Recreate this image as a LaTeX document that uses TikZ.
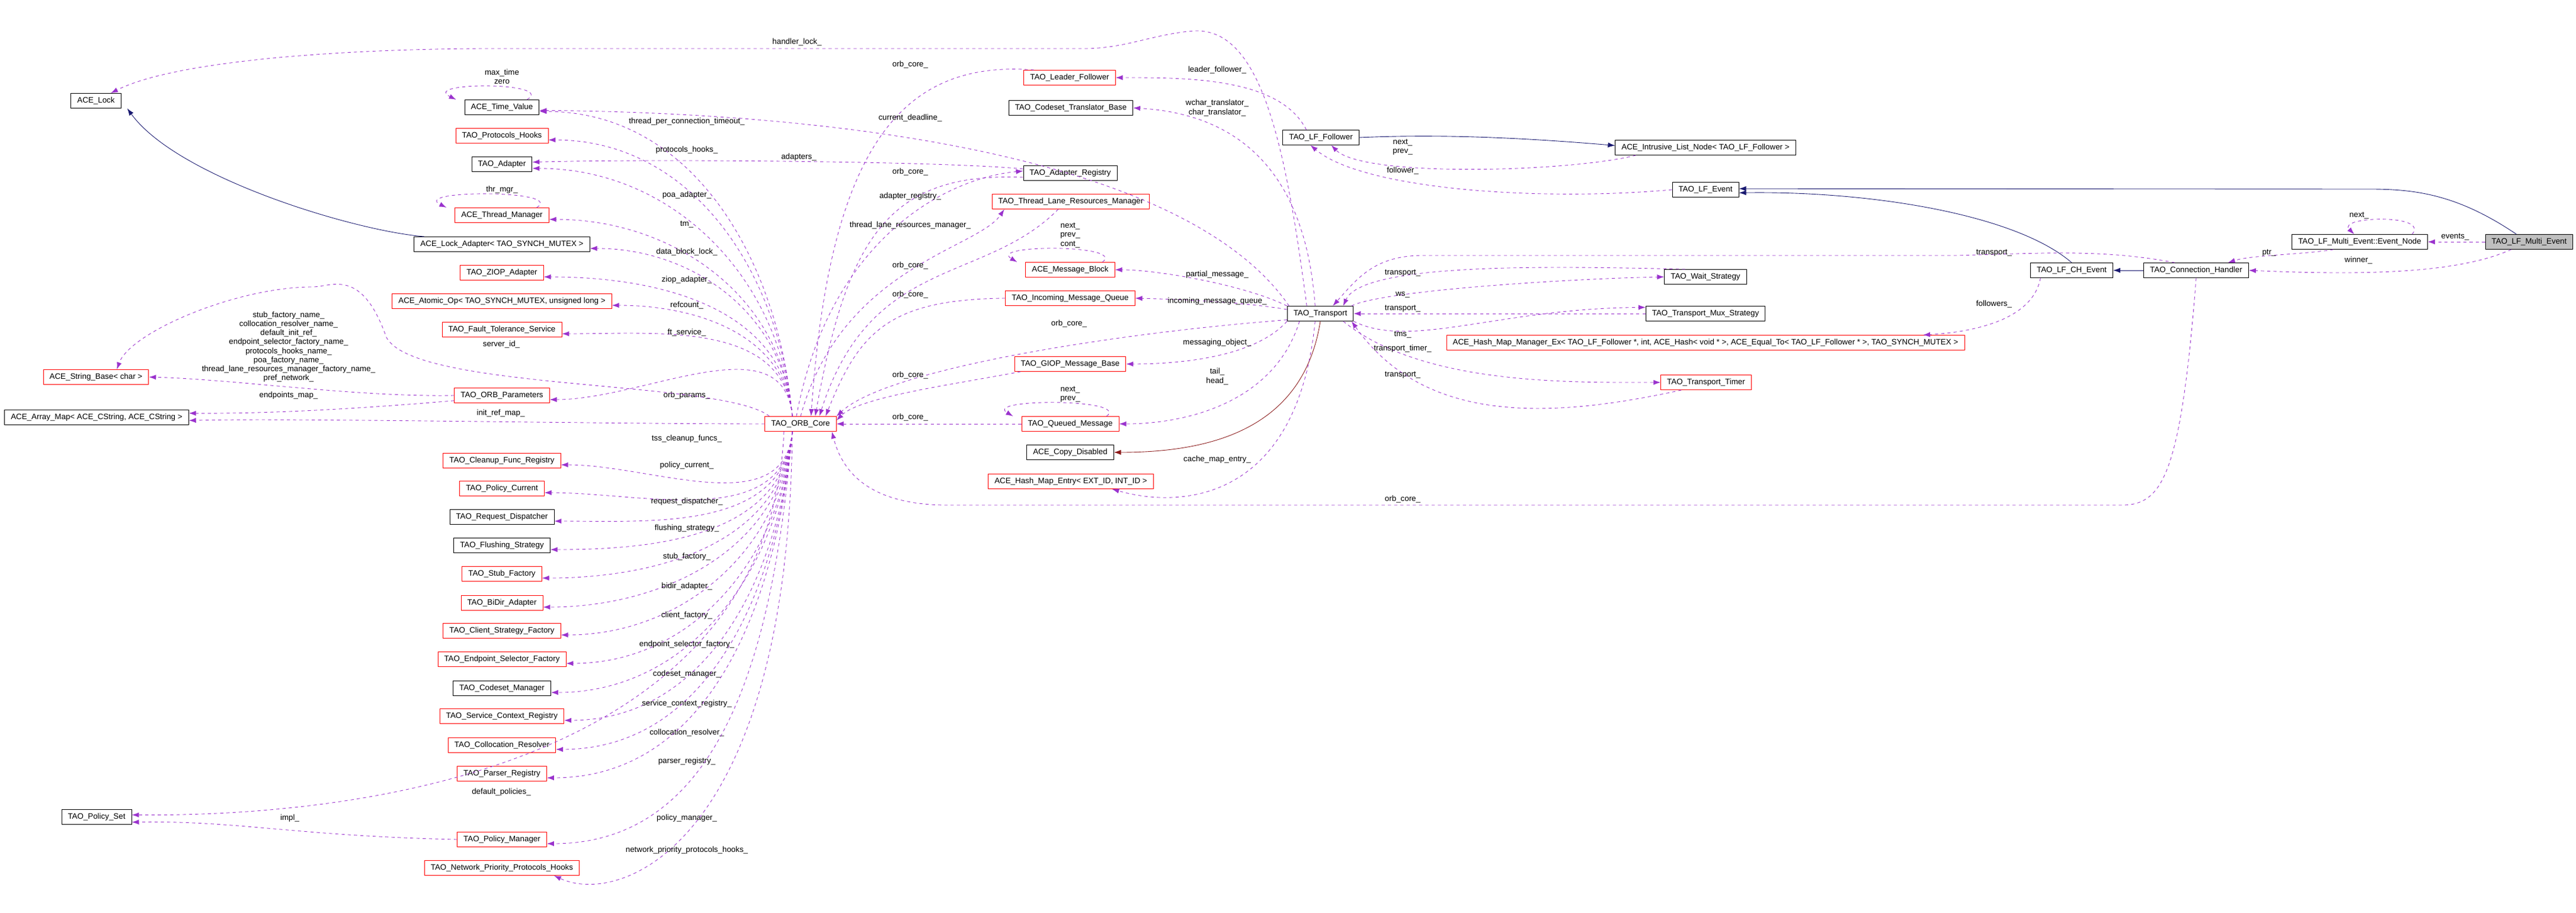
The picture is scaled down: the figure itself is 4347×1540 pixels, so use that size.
\documentclass[tikz,border=0pt]{standalone}
\usepackage{fontspec}
\setmainfont{Liberation Sans}
\usetikzlibrary{arrows.meta}
\definecolor{usecol}{HTML}{9A32CD}
\definecolor{inhcol}{HTML}{191970}
\definecolor{privcol}{HTML}{8B1A1A}
\tikzset{
  cls/.style={draw=black, fill=white, rectangle, minimum height=0.5cm, inner xsep=6pt, inner ysep=1pt, font=\fontsize{7.6}{9}\selectfont, line width=0.5pt},
  clsred/.style={cls, draw=red},
  clsfocus/.style={cls, fill=black!25},
  lbl/.style={font=\fontsize{7.6}{8.6}\selectfont, inner sep=1pt, align=center},
  uses/.style={draw=usecol, dashed, line width=0.5pt, -{Latex[length=2.4mm,width=1.7mm]}},
  inh/.style={draw=inhcol, line width=0.5pt, -{Latex[length=2.4mm,width=1.7mm]}},
  inhpriv/.style={inh, draw=privcol},
}
\begin{document}
\begin{tikzpicture}[x=0.02cm, y=0.02cm]
    \useasboundingbox (0,0) rectangle (4347,-1540);
    % left side
    \node [cls] (lock) at (162,-170) {ACE\_Lock};
    \node [clsred] (sb) at (162,-636) {ACE\_String\_Base< char >};
    \node [cls] (am) at (163,-704) {ACE\_Array\_Map< ACE\_CString, ACE\_CString >};
    \node [cls] (ps) at (163,-1378) {TAO\_Policy\_Set};
    \node [cls] (tv) at (847,-181) {ACE\_Time\_Value};
    \node [clsred] (ph) at (847,-229) {TAO\_Protocols\_Hooks};
    \node [cls] (ad) at (847,-277) {TAO\_Adapter};
    \node [clsred] (thm) at (847,-363) {ACE\_Thread\_Manager};
    \node [cls] (la) at (847,-412) {ACE\_Lock\_Adapter< TAO\_SYNCH\_MUTEX >};
    \node [clsred] (ziop) at (847,-460) {TAO\_ZIOP\_Adapter};
    \node [clsred] (atom) at (847,-508) {ACE\_Atomic\_Op< TAO\_SYNCH\_MUTEX, unsigned long >};
    \node [clsred] (ft) at (847,-556) {TAO\_Fault\_Tolerance\_Service};
    \node [clsred] (op) at (847,-667) {TAO\_ORB\_Parameters};
    \node [clsred] (cfr) at (847,-777) {TAO\_Cleanup\_Func\_Registry};
    \node [clsred] (pc) at (847,-824) {TAO\_Policy\_Current};
    \node [cls] (rd) at (847,-872) {TAO\_Request\_Dispatcher};
    \node [cls] (fs) at (847,-920) {TAO\_Flushing\_Strategy};
    \node [clsred] (sf) at (847,-968) {TAO\_Stub\_Factory};
    \node [clsred] (bd) at (847,-1017) {TAO\_BiDir\_Adapter};
    \node [clsred] (csf) at (847,-1064) {TAO\_Client\_Strategy\_Factory};
    \node [clsred] (esf) at (847,-1112) {TAO\_Endpoint\_Selector\_Factory};
    \node [cls] (cm) at (847,-1161) {TAO\_Codeset\_Manager};
    \node [clsred] (scr) at (847,-1208) {TAO\_Service\_Context\_Registry};
    \node [clsred] (cr) at (847,-1257) {TAO\_Collocation\_Resolver};
    \node [clsred] (pr) at (847,-1305) {TAO\_Parser\_Registry};
    \node [clsred] (pm) at (847,-1416) {TAO\_Policy\_Manager};
    \node [clsred] (npph) at (847,-1464) {TAO\_Network\_Priority\_Protocols\_Hooks};
    \node [clsred] (orb) at (1351,-715) {TAO\_ORB\_Core};
    % middle
    \node [clsred] (lf) at (1805,-131) {TAO\_Leader\_Follower};
    \node [cls] (ctb) at (1807,-182) {TAO\_Codeset\_Translator\_Base};
    \node [cls] (areg) at (1806,-292) {TAO\_Adapter\_Registry};
    \node [clsred] (tlrm) at (1807,-340) {TAO\_Thread\_Lane\_Resources\_Manager};
    \node [clsred] (mb) at (1806,-455) {ACE\_Message\_Block};
    \node [clsred] (imq) at (1806,-503) {TAO\_Incoming\_Message\_Queue};
    \node [clsred] (giop) at (1806,-614) {TAO\_GIOP\_Message\_Base};
    \node [clsred] (qm) at (1806,-715) {TAO\_Queued\_Message};
    \node [cls] (cd) at (1806,-763) {ACE\_Copy\_Disabled};
    \node [clsred] (hme) at (1807,-812) {ACE\_Hash\_Map\_Entry< EXT\_ID, INT\_ID >};
    \node [cls] (tr) at (2228,-529) {TAO\_Transport};
    \node [cls] (lff) at (2229,-232) {TAO\_LF\_Follower};
    % right side
    \node [cls] (iln) at (2878,-249) {ACE\_Intrusive\_List\_Node< TAO\_LF\_Follower >};
    \node [cls] (lfe) at (2878,-320) {TAO\_LF\_Event};
    \node [cls] (ws) at (2878,-467) {TAO\_Wait\_Strategy};
    \node [cls] (tms) at (2878,-529) {TAO\_Transport\_Mux\_Strategy};
    \node [clsred] (hmm) at (2878,-578) {ACE\_Hash\_Map\_Manager\_Ex< TAO\_LF\_Follower *, int, ACE\_Hash< void * >, ACE\_Equal\_To< TAO\_LF\_Follower * >, TAO\_SYNCH\_MUTEX >};
    \node [clsred] (tt) at (2879,-645) {TAO\_Transport\_Timer};
    \node [cls] (chev) at (3496,-456) {TAO\_LF\_CH\_Event};
    \node [cls] (ch) at (3706,-456) {TAO\_Connection\_Handler};
    \node [cls] (en) at (3982,-408) {TAO\_LF\_Multi\_Event::Event\_Node};
    \node [clsfocus] (me) at (4268,-408) {TAO\_LF\_Multi\_Event};

    % ORB core members, upper fan
    \foreach \b/\l/\ly in {tv/thread\_per\_connection\_timeout\_/205, ph/protocols\_hooks\_/253,
        ad/poa\_adapter\_/329, thm/tm\_/379, la/data\_block\_lock\_/425, ziop/ziop\_adapter\_/472,
        atom/refcount\_/515, ft/ft\_service\_/561, op/orb\_params\_/667} {
      \draw [uses] ([xshift=-8]orb.north) to[out=95,in=0] ([yshift=-4]\b.east);
      \node [lbl] (l\b) at (1159,-\ly) {\l};
    }
    % lower fan
    \foreach \b/\l/\ly in {cfr/tss\_cleanup\_funcs\_/740, pc/policy\_current\_/785, rd/request\_dispatcher\_/846,
        fs/flushing\_strategy\_/891, sf/stub\_factory\_/939, bd/bidir\_adapter\_/989, csf/client\_factory\_/1038,
        esf/endpoint\_selector\_factory\_/1087, cm/codeset\_manager\_/1137, scr/service\_context\_registry\_/1187,
        cr/collocation\_resolver\_/1236, pr/parser\_registry\_/1284, pm/policy\_manager\_/1380} {
      \draw [uses] ([xshift=-8]orb.south) to[out=-95,in=0] ([yshift=-4]\b.east);
      \node [lbl] (l\b) at (1159,-\ly) {\l};
    }
    \draw [uses] ([xshift=-8]orb.south) .. controls (1330,-1420) and (1050,-1530) .. ([xshift=50]npph.south);
    \node [lbl] (lnpph) at (1159,-1434) {network\_priority\_protocols\_hooks\_};
    \draw [uses] ([xshift=-16]orb.south) .. controls (1300,-1250) and (700,-1378) .. ([yshift=2]ps.east);
    \node [lbl] (ldp) at (846,-1336) {default\_policies\_};
    \draw [uses] (pm.west) .. controls (500,-1410) and (400,-1384) .. ([yshift=-5]ps.east);
    \node [lbl] (limpl) at (489,-1380) {impl\_};

    % parameters and maps
    \draw [uses] (op.west) .. controls (600,-670) and (400,-640) .. (sb.east);
    \node [lbl] (lsb) at (487,-585) {stub\_factory\_name\_\\collocation\_resolver\_name\_\\default\_init\_ref\_\\endpoint\_selector\_factory\_name\_\\protocols\_hooks\_name\_\\poa\_factory\_name\_\\thread\_lane\_resources\_manager\_factory\_name\_\\pref\_network\_};
    \draw [uses] ([yshift=-5]op.west) .. controls (600,-690) and (450,-698) .. ([yshift=4]am.east);
    \node [lbl] (lem) at (487,-667) {endpoints\_map\_};
    \draw [uses] (orb.west) .. controls (1000,-715) and (500,-705) .. ([yshift=-3]am.east);
    \node [lbl] (lirm) at (845,-697) {init\_ref\_map\_};
    \draw [uses] ([xshift=-30]orb.north) .. controls (1220,-640) and (700,-660) .. (652,-569)
        .. controls (610,-450) and (560,-484) .. (527,-484) .. controls (400,-484) and (220,-560) .. ([xshift=20]sb.north);
    \node [lbl] (lsid) at (846,-581) {server\_id\_};
    \draw [inh] ([xshift=10]la.north west) .. controls (600,-390) and (300,-300) .. ([xshift=30]lock.south);

    % self loops
    \draw [uses] ([xshift=-12]tv.north east) .. controls +(50,30) and +(-60,30) .. ([xshift=-8]tv.north west);
    \node [lbl] (ltv) at (847,-129) {max\_time\\zero};
    \draw [uses] ([xshift=-12]thm.north east) .. controls +(50,30) and +(-60,30) .. ([xshift=-8]thm.north west);
    \node [lbl] (lthm) at (847,-320) {thr\_mgr\_};
    \draw [uses] ([xshift=-12]mb.north east) .. controls +(40,30) and +(-50,30) .. ([xshift=-8]mb.north west);
    \node [lbl] (lmb) at (1806,-397) {next\_\\prev\_\\cont\_};
    \draw [uses] ([xshift=-12]qm.north east) .. controls +(40,30) and +(-50,30) .. ([xshift=-8]qm.north west);
    \node [lbl] (lqm) at (1806,-665) {next\_\\prev\_};
    \draw [uses] ([xshift=-15]en.north east) .. controls +(30,35) and +(-30,30) .. ([xshift=60]en.north west);
    \node [lbl] (len) at (3981,-364) {next\_};

    % orb_core_ back references
    \draw [uses] ([xshift=10]lf.north west) .. controls (1520,-100) and (1400,-250) .. ([xshift=10]orb.north);
    \node [lbl] (llf) at (1536,-109) {orb\_core\_};
    \draw [uses] ([yshift=-4]areg.west) .. controls (1500,-290) and (1430,-400) .. ([xshift=14]orb.north);
    \node [lbl] (lareg) at (1536,-290) {orb\_core\_};
    \draw [uses] ([xshift=-4]orb.north) .. controls (1400,-400) and (1600,-300) .. ([yshift=2]areg.west);
    \node [lbl] (laregr) at (1536,-331) {adapter\_registry\_};
    \draw [uses] (orb.north) .. controls (1420,-450) and (1650,-420) .. ([xshift=12]tlrm.south west);
    \node [lbl] (ltlrm) at (1536,-380) {thread\_lane\_resources\_manager\_};
    \draw [uses] ([xshift=-12]tlrm.south) .. controls (1660,-480) and (1470,-430) .. ([xshift=18]orb.north);
    \node [lbl] (ltlrmo) at (1536,-448) {orb\_core\_};
    \draw [uses] (imq.west) .. controls (1500,-505) and (1450,-560) .. ([xshift=24]orb.north);
    \node [lbl] (limq) at (1536,-497) {orb\_core\_};
    \draw [uses] ([yshift=-6]tr.west) .. controls (1900,-560) and (1500,-620) .. (orb.north east);
    \node [lbl] (ltro) at (1804,-546) {orb\_core\_};
    \draw [uses] ([xshift=6]giop.south west) .. controls (1600,-650) and (1450,-670) .. ([yshift=-4]orb.north east);
    \node [lbl] (lgiop) at (1536,-633) {orb\_core\_};
    \draw [uses] (qm.west) -- (orb.east);
    \node [lbl] (lqmo) at (1536,-704) {orb\_core\_};
    \draw [uses] (ch.south) .. controls (3680,-800) and (3650,-852) .. (3580,-852) -- (1600,-852)
        .. controls (1460,-852) and (1420,-790) .. ([xshift=30]orb.south);
    \node [lbl] (lcho) at (2367,-842) {orb\_core\_};

    % transport
    \draw [uses] ([xshift=-13]tr.north) .. controls (2170,-250) and (2130,-50) .. (2018,-52)
        .. controls (1950,-56) and (1900,-82) .. (1830,-82) -- (830,-82)
        .. controls (600,-82) and (300,-100) .. ([xshift=-10]lock.north east);
    \node [lbl] (lhl) at (1345,-71) {handler\_lock\_};
    \draw [uses] ([xshift=-14]lff.north) .. controls (2160,-130) and (2000,-131) .. (lf.east);
    \node [lbl] (llfl) at (2054,-118) {leader\_follower\_};
    \draw [uses] ([xshift=-5]tr.north) .. controls (2200,-250) and (2050,-190) .. (ctb.east);
    \node [lbl] (lctb) at (2054,-182) {wchar\_translator\_\\char\_translator\_};
    \draw [uses] ([xshift=-30]tr.north) .. controls (2000,-260) and (1400,-190) .. ([yshift=-3]tv.east);
    \node [lbl] (lcd) at (1536,-199) {current\_deadline\_};
    \draw [uses] ([yshift=4]areg.west) .. controls (1600,-272) and (1100,-268) .. ([yshift=2]ad.east);
    \node [lbl] (lad) at (1348,-265) {adapters\_};
    \draw [uses] (tr.north west) .. controls (2100,-480) and (1950,-455) .. (mb.east);
    \node [lbl] (lmbp) at (2054,-463) {partial\_message\_};
    \draw [uses] ([yshift=4]tr.west) .. controls (2100,-510) and (2000,-505) .. (imq.east);
    \node [lbl] (limqt) at (2054,-508) {incoming\_message\_queue\_};
    \draw [uses] (tr.south west) .. controls (2120,-600) and (2000,-614) .. (giop.east);
    \node [lbl] (lgiopt) at (2054,-578) {messaging\_object\_};
    \draw [uses] ([xshift=-20]tr.south) .. controls (2150,-680) and (2000,-715) .. (qm.east);
    \node [lbl] (lqmt) at (2054,-635) {tail\_\\head\_};
    \draw [inhpriv] (tr.south) .. controls (2200,-720) and (2050,-763) .. (cd.east);
    \draw [uses] ([xshift=-5]tr.south) .. controls (2190,-840) and (2000,-860) .. ([xshift=-40]hme.south east);
    \node [lbl] (lhme) at (2054,-775) {cache\_map\_entry\_};
    \draw [uses] ([xshift=20]ws.north west) .. controls (2650,-450) and (2300,-440) .. ([xshift=22]tr.north);
    \node [lbl] (lws) at (2367,-461) {transport\_};
    \draw [uses] ([xshift=30]tr.north) .. controls (2330,-490) and (2650,-470) .. (ws.west);
    \node [lbl] (lwst) at (2367,-497) {ws\_};
    \draw [uses] (tms.west) -- (tr.east);
    \node [lbl] (ltms) at (2367,-521) {transport\_};
    \draw [uses] (tr.south east) .. controls (2380,-590) and (2530,-520) .. ([yshift=6]tms.west);
    \node [lbl] (ltmst) at (2367,-565) {tms\_};
    \draw [uses] ([xshift=-10]tr.south east) .. controls (2400,-650) and (2650,-645) .. (tt.west);
    \node [lbl] (ltt) at (2367,-588) {transport\_timer\_};
    \draw [uses] ([xshift=20]tt.south west) .. controls (2600,-710) and (2400,-710) .. ([xshift=30]tr.south);
    \node [lbl] (lttt) at (2367,-633) {transport\_};
    \draw [uses] ([xshift=30]ch.north west) .. controls (3550,-420) and (3450,-427) .. (3300,-431)
        -- (2400,-431) .. controls (2320,-431) and (2290,-470) .. ([xshift=12]tr.north);
    \node [lbl] (lcht) at (3365,-427) {transport\_};

    % leader follower
    \draw [inh] (lff.east) .. controls (2450,-225) and (2600,-235) .. ([yshift=2]iln.west);
    \draw [uses] ([xshift=20]iln.south west) .. controls (2650,-290) and (2300,-300) .. ([xshift=10]lff.south);
    \node [lbl] (liln) at (2367,-248) {next\_\\prev\_};
    \draw [uses] (lfe.west) .. controls (2600,-340) and (2300,-320) .. ([xshift=-10]lff.south);
    \node [lbl] (llfe) at (2367,-288) {follower\_};
    \draw [inh] (chev.north) .. controls (3400,-360) and (3150,-322) .. ([yshift=-3]lfe.east);
    \draw [inh] ([xshift=30]me.north west) .. controls (4150,-330) and (4080,-319) .. (4000,-319) -- ([yshift=1]lfe.east);
    \draw [inh] (ch.west) -- (chev.east);
    \draw [uses] ([xshift=-30]chev.south) .. controls (3430,-540) and (3330,-560) .. ([xshift=-40]hmm.north east);
    \node [lbl] (lfol) at (3365,-513) {followers\_};
    \draw [uses] (me.west) -- (en.east);
    \node [lbl] (lev) at (4143,-400) {events\_};
    \draw [uses] ([xshift=40]en.south west) .. controls (3880,-430) and (3800,-430) .. ([xshift=-20]ch.north east);
    \node [lbl] (lptr) at (3829,-427) {ptr\_};
    \draw [uses] ([xshift=25]me.south west) .. controls (4150,-460) and (4000,-465) .. (ch.east);
    \node [lbl] (lwin) at (3980,-439) {winner\_};
\end{tikzpicture}
\end{document}
